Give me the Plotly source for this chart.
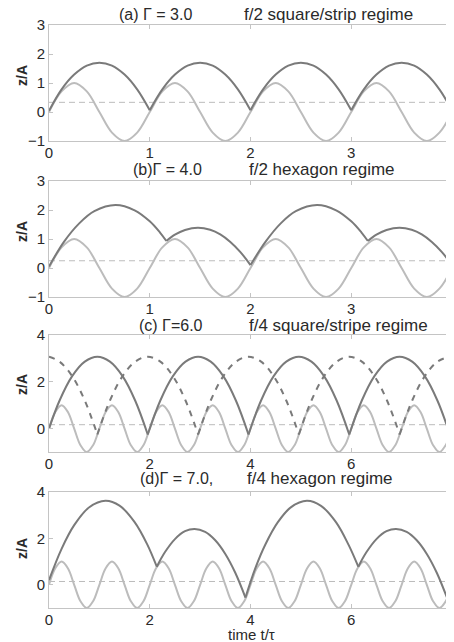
import plotly.graph_objects as go

# ---------------- data ----------------
# plate position z/A, one sample every 1/8 period
plate4_t = [0, 0.125, 0.25, 0.375, 0.5, 0.625, 0.75, 0.875,
            1, 1.125, 1.25, 1.375, 1.5, 1.625, 1.75, 1.875,
            2, 2.125, 2.25, 2.375, 2.5, 2.625, 2.75, 2.875,
            3, 3.125, 3.25, 3.375, 3.5, 3.625, 3.75, 3.875, 4]
plate4_z = [0, 0.71, 1, 0.71, 0, -0.71, -1, -0.71,
            0, 0.71, 1, 0.71, 0, -0.71, -1, -0.71,
            0, 0.71, 1, 0.71, 0, -0.71, -1, -0.71,
            0, 0.71, 1, 0.71, 0, -0.71, -1, -0.71, 0]

plate8_t = [0, 0.125, 0.25, 0.375, 0.5, 0.625, 0.75, 0.875,
            1, 1.125, 1.25, 1.375, 1.5, 1.625, 1.75, 1.875,
            2, 2.125, 2.25, 2.375, 2.5, 2.625, 2.75, 2.875,
            3, 3.125, 3.25, 3.375, 3.5, 3.625, 3.75, 3.875,
            4, 4.125, 4.25, 4.375, 4.5, 4.625, 4.75, 4.875,
            5, 5.125, 5.25, 5.375, 5.5, 5.625, 5.75, 5.875,
            6, 6.125, 6.25, 6.375, 6.5, 6.625, 6.75, 6.875,
            7, 7.125, 7.25, 7.375, 7.5, 7.625, 7.75, 7.875, 8]
plate8_z = [0, 0.71, 1, 0.71, 0, -0.71, -1, -0.71,
            0, 0.71, 1, 0.71, 0, -0.71, -1, -0.71,
            0, 0.71, 1, 0.71, 0, -0.71, -1, -0.71,
            0, 0.71, 1, 0.71, 0, -0.71, -1, -0.71,
            0, 0.71, 1, 0.71, 0, -0.71, -1, -0.71,
            0, 0.71, 1, 0.71, 0, -0.71, -1, -0.71,
            0, 0.71, 1, 0.71, 0, -0.71, -1, -0.71,
            0, 0.71, 1, 0.71, 0, -0.71, -1, -0.71, 0]

# ball trajectories (None = impact, new flight)
ball_a_t = [0, 0.125, 0.25, 0.375, 0.5, 0.625, 0.75, 0.875, 1, None,
            1, 1.125, 1.25, 1.375, 1.5, 1.625, 1.75, 1.875, 2, None,
            2, 2.125, 2.25, 2.375, 2.5, 2.625, 2.75, 2.875, 3, None,
            3, 3.125, 3.25, 3.375, 3.5, 3.625, 3.75, 3.875, 4]
ball_a_z = [0.04, 0.78, 1.29, 1.60, 1.70, 1.60, 1.29, 0.78, 0.06, None,
            0.06, 0.78, 1.29, 1.60, 1.70, 1.60, 1.29, 0.78, 0.06, None,
            0.06, 0.78, 1.29, 1.60, 1.70, 1.60, 1.29, 0.78, 0.06, None,
            0.06, 0.78, 1.29, 1.60, 1.70, 1.60, 1.29, 0.78, 0.06]

ball_b_t = [0, 0.15, 0.3, 0.45, 0.66, 0.85, 1.0, 1.1, 1.165, None,
            1.165, 1.25, 1.35, 1.477, 1.6, 1.7, 1.8, 1.9, 2.0, None,
            2.0, 2.15, 2.3, 2.45, 2.66, 2.85, 3.0, 3.1, 3.165, None,
            3.165, 3.25, 3.35, 3.477, 3.6, 3.7, 3.8, 3.9, 4.0]
ball_b_z = [0.05, 0.91, 1.54, 1.96, 2.17, 1.99, 1.61, 1.23, 0.93, None,
            0.93, 1.15, 1.31, 1.39, 1.32, 1.16, 0.90, 0.55, 0.10, None,
            0.10, 0.91, 1.54, 1.96, 2.17, 1.99, 1.61, 1.23, 0.93, None,
            0.93, 1.15, 1.31, 1.39, 1.32, 1.16, 0.90, 0.55, 0.10]

ball_c_t = [0, 0.21, 0.46, 0.71, 0.96, 1.21, 1.46, 1.71, 1.96, None,
            1.96, 2.21, 2.46, 2.71, 2.96, 3.21, 3.46, 3.71, 3.96, None,
            3.96, 4.21, 4.46, 4.71, 4.96, 5.21, 5.46, 5.71, 5.96, None,
            5.96, 6.21, 6.46, 6.71, 6.96, 7.21, 7.46, 7.71, 7.96, None,
            7.96, 8.0]
ball_c_z = [0.0, 1.20, 2.24, 2.86, 3.07, 2.86, 2.24, 1.20, -0.25, None,
            -0.25, 1.20, 2.24, 2.86, 3.07, 2.86, 2.24, 1.20, -0.25, None,
            -0.25, 1.20, 2.24, 2.86, 3.07, 2.86, 2.24, 1.20, -0.25, None,
            -0.25, 1.20, 2.24, 2.86, 3.07, 2.86, 2.24, 1.20, -0.25, None,
            -0.25, 0.0]

# second ball (dashed) in panel c
ball_c2_t = [0, 0.21, 0.46, 0.71, 0.96, None,
             0.96, 1.21, 1.46, 1.71, 1.96, 2.21, 2.46, 2.71, 2.96, None,
             2.96, 3.21, 3.46, 3.71, 3.96, 4.21, 4.46, 4.71, 4.96, None,
             4.96, 5.21, 5.46, 5.71, 5.96, 6.21, 6.46, 6.71, 6.96, None,
             6.96, 7.21, 7.46, 7.71, 7.96, 8.0]
ball_c2_z = [3.07, 2.86, 2.24, 1.20, -0.25, None,
             -0.25, 1.20, 2.24, 2.86, 3.07, 2.86, 2.24, 1.20, -0.25, None,
             -0.25, 1.20, 2.24, 2.86, 3.07, 2.86, 2.24, 1.20, -0.25, None,
             -0.25, 1.20, 2.24, 2.86, 3.07, 2.86, 2.24, 1.20, -0.25, None,
             -0.25, 1.20, 2.24, 2.86, 3.07, 3.06]

ball_d_t = [0, 0.25, 0.5, 0.8, 1.12, 1.4, 1.7, 1.95, 2.14, None,
            2.14, 2.3, 2.5, 2.7, 2.89, 3.1, 3.3, 3.5, 3.7, 3.9, None,
            3.9, 4.1, 4.3, 4.55, 4.8, 5.12, 5.4, 5.7, 5.95, 6.14, None,
            6.14, 6.3, 6.5, 6.7, 6.89, 7.1, 7.3, 7.5, 7.7, 7.9, None,
            7.9, 8.0]
ball_d_z = [0.2, 1.55, 2.57, 3.34, 3.62, 3.41, 2.70, 1.74, 0.78, None,
            0.78, 1.40, 1.97, 2.31, 2.41, 2.28, 1.92, 1.33, 0.51, -0.55, None,
            -0.55, 0.74, 1.76, 2.72, 3.34, 3.62, 3.40, 2.69, 1.71, 0.78, None,
            0.78, 1.40, 1.97, 2.31, 2.41, 2.28, 1.92, 1.33, 0.51, -0.55, None,
            -0.55, 0.15]

gammas = [3.0, 4.0, 6.0, 7.0]          # dashed line at 1/Gamma
t_end = [4, 4, 8, 8]
y_range = [[-1, 3], [-1, 3], [-1, 4], [-1, 4]]
x_ticks = [[0, 1, 2, 3, 4], [0, 1, 2, 3, 4], [0, 2, 4, 6, 8], [0, 2, 4, 6, 8]]
y_ticks = [[-1, 0, 1, 2, 3], [-1, 0, 1, 2, 3], [0, 2, 4], [0, 2, 4]]
titles_left = ["(a) Γ = 3.0", "(b)Γ = 4.0", "(c) Γ=6.0", "(d)Γ = 7.0,"]
titles_right = ["f/2 square/strip regime", "f/2 hexagon regime",
                "f/4 square/stripe regime", "f/4 hexagon regime"]

# ---------------- figure ----------------
W, H = 454, 642
PAGE = 8   # the page body margin shifts the figure by this much

def fx(px):
    return (px - PAGE) / W

def fy(py):
    return 1 - (py - PAGE) / H

panel_px = [(25, 141), (181, 297), (335, 452), (492, 608)]   # top, bottom on screen
title_left_px = [117, 131, 137, 138]
title_right_px = [242, 247, 247, 245]
title_y_px = [15, 170, 325, 478]
ylabel_y_px = [76, 232, 385, 549]

BALL = "#7a7a7a"
PLATE = "#bcbcbc"
FRAME = "#c4c4c4"
TXT = "#2a2a2a"

plates = [(plate4_t, plate4_z), (plate4_t, plate4_z),
          (plate8_t, plate8_z), (plate8_t, plate8_z)]
balls = [(ball_a_t, ball_a_z), (ball_b_t, ball_b_z),
         (ball_c_t, ball_c_z), (ball_d_t, ball_d_z)]

fig = go.Figure()

for i in range(4):
    xa = "x" if i == 0 else f"x{i+1}"
    ya = "y" if i == 0 else f"y{i+1}"
    g = gammas[i]

    fig.add_trace(go.Scatter(x=[0, t_end[i]], y=[1 / g, 1 / g], mode="lines",
                             line=dict(color=PLATE, width=1, dash="6px,4px"),
                             xaxis=xa, yaxis=ya, hoverinfo="skip"))
    fig.add_trace(go.Scatter(x=plates[i][0], y=plates[i][1], mode="lines",
                             line=dict(color=PLATE, width=2, shape="spline"),
                             xaxis=xa, yaxis=ya))
    if i == 2:
        fig.add_trace(go.Scatter(x=ball_c2_t, y=ball_c2_z, mode="lines",
                                 line=dict(color=BALL, width=2, shape="spline",
                                           dash="6px,6px"),
                                 connectgaps=False, xaxis=xa, yaxis=ya))
    fig.add_trace(go.Scatter(x=balls[i][0], y=balls[i][1], mode="lines",
                             line=dict(color=BALL, width=2, shape="spline"),
                             connectgaps=False, xaxis=xa, yaxis=ya))

    top, bot = panel_px[i]
    axis_common = dict(showline=True, linecolor=FRAME, linewidth=1, mirror="ticks",
                       ticks="inside", ticklen=4, tickcolor=FRAME,
                       showgrid=False, zeroline=False, automargin=False,
                       tickfont=dict(size=15, color=TXT))
    xkey = "xaxis" if i == 0 else f"xaxis{i+1}"
    ykey = "yaxis" if i == 0 else f"yaxis{i+1}"
    fig.update_layout(**{
        xkey: dict(axis_common, domain=[fx(49), fx(452)], anchor=ya,
                   range=[0, t_end[i]], tickvals=x_ticks[i],
                   ticklabeloverflow="allow", ticklabelstandoff=-2),
        ykey: dict(axis_common, domain=[fy(bot), fy(top)], anchor=xa,
                   range=y_range[i], tickvals=y_ticks[i]),
    })

    # y label as text, so its place does not depend on the tick labels
    fig.add_annotation(text="<b>z/A</b>", xref="paper", yref="paper",
                       x=fx(22), y=fy(ylabel_y_px[i]), textangle=-90,
                       xanchor="center", yanchor="middle", showarrow=False,
                       font=dict(size=14, color=TXT))

    fig.add_annotation(text=titles_left[i], xref="paper", yref="paper",
                       x=fx(title_left_px[i]), y=fy(title_y_px[i]),
                       xanchor="left", yanchor="middle",
                       showarrow=False, font=dict(size=16, color=TXT))
    fig.add_annotation(text=titles_right[i], xref="paper", yref="paper",
                       x=fx(title_right_px[i]), y=fy(title_y_px[i]),
                       xanchor="left", yanchor="middle",
                       showarrow=False, font=dict(size=17, color=TXT))

fig.add_annotation(text="time t/τ", xref="paper", yref="paper",
                   x=fx(251), y=fy(634), xanchor="center", yanchor="middle",
                   showarrow=False, font=dict(size=15, color=TXT))

fig.update_layout(
    width=W, height=H,
    margin=dict(l=0, r=0, t=0, b=0, autoexpand=False),
    paper_bgcolor="white",
    plot_bgcolor="white",
    showlegend=False,
    font=dict(family="Arial, Liberation Sans, sans-serif", color=TXT),
)

fig.write_html("out.html")
